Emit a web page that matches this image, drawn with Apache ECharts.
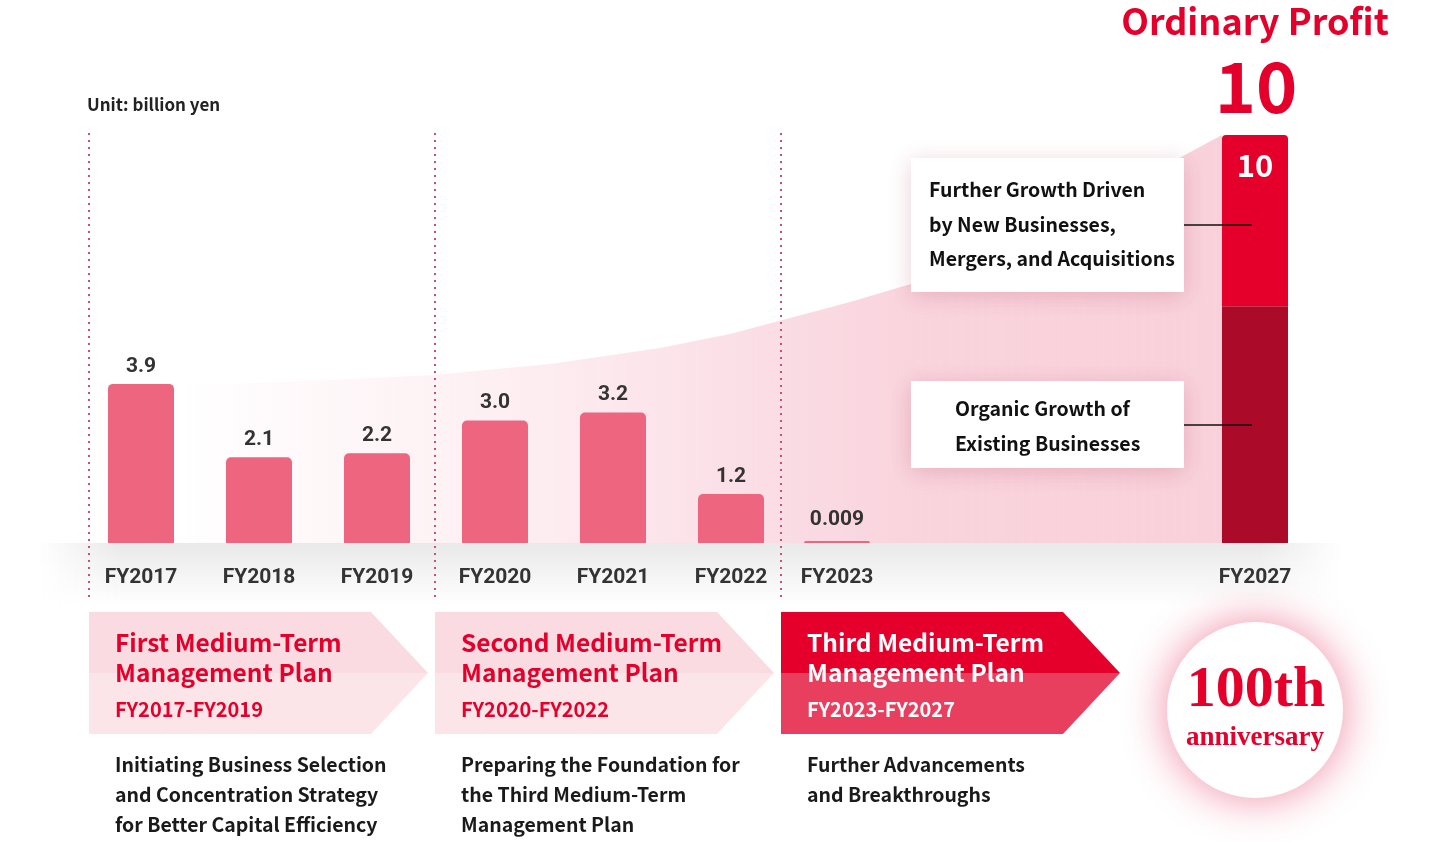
<!DOCTYPE html>
<html>
<head>
<meta charset="utf-8">
<script src="https://cdn.jsdelivr.net/npm/echarts@6/dist/echarts.min.js"></script>
<style>
html,body{margin:0;padding:0;background:#fff;}
#chart{width:1440px;height:842px;}
</style>
</head>
<body>
<div id="chart"></div>
<script>
// ---- data ----
const categories = ['FY2017','FY2018','FY2019','FY2020','FY2021','FY2022','FY2023','FY2027'];
const profit = [3.9, 2.1, 2.2, 3.0, 3.2, 1.2, 0.009];
const target2027 = 10;
const organicGrowth2027 = 5.8;
const newBusiness2027 = 4.2;
const plans = [
  {title:['First Medium-Term','Management Plan'], years:'FY2017-FY2019',
   desc:['Initiating Business Selection','and Concentration Strategy','for Better Capital Efficiency']},
  {title:['Second Medium-Term','Management Plan'], years:'FY2020-FY2022',
   desc:['Preparing the Foundation for','the Third Medium-Term','Management Plan']},
  {title:['Third Medium-Term','Management Plan'], years:'FY2023-FY2027',
   desc:['Further Advancements','and Breakthroughs']}
];
const boxTexts = [['Further Growth Driven','by New Businesses,','Mergers, and Acquisitions'],
                  ['Organic Growth of','Existing Businesses']];

// ---- chart ----
const chart = echarts.init(document.getElementById('chart'));
const SANS = '"Noto Sans CJK JP","Noto Sans",sans-serif';
const NUM = 'Roboto,"Noto Sans",sans-serif';
const RED = '#e4002b';
const TOP = 135, H = 408;

const grids = [
  {left: 82, width: 708, top: TOP, height: H},
  {left: 778, width: 118, top: TOP, height: H},
  {left: 1196, width: 118, top: TOP, height: H}
];
const xCats = [categories.slice(0,6), categories.slice(6,7), categories.slice(7,8)];
const xAxes = xCats.map((c,i)=>({
  type:'category', gridIndex:i, data:c,
  axisLine:{show:false}, axisTick:{show:false},
  axisLabel:{margin:24, fontSize:21, fontWeight:'bold', color:'#333', fontFamily:NUM}
}));
const yAxes = [0,1,2].map(i=>({type:'value', gridIndex:i, min:0, max:10, show:false, splitLine:{show:false}}));

const fmtVal = p => p.value < 0.1 ? String(p.value) : p.value.toFixed(1);
const barLabel = (d)=>({show:true, position:'top', distance:d, fontSize:21, fontWeight:'bold', color:'#333', fontFamily:NUM, formatter:fmtVal});

// decorative elements
const g = [];
// floor shadow
g.push({type:'rect', z:0, shape:{x:40,y:543,width:1300,height:62},
  style:{fill:new echarts.graphic.LinearGradient(0,0,0,1,[{offset:0,color:'rgba(0,0,0,0.085)'},{offset:1,color:'rgba(0,0,0,0)'}])}});
g.push({type:'rect', z:0, shape:{x:38,y:540,width:80,height:68},
  style:{fill:new echarts.graphic.LinearGradient(0,0,1,0,[{offset:0,color:'#fff'},{offset:1,color:'rgba(255,255,255,0)'}])}});
g.push({type:'rect', z:0, shape:{x:1262,y:540,width:80,height:68},
  style:{fill:new echarts.graphic.LinearGradient(0,0,1,0,[{offset:0,color:'rgba(255,255,255,0)'},{offset:1,color:'#fff'}])}});
// growth area
const curve = [[175,385],[250,383],[330,380],[433,375],[550,364],[660,348],[730,334],[790,318],[850,302],[911,284],
  [970,263],[1030,239],[1090,211],[1140,183],[1183,156],[1222,135]];
g.push({type:'polygon', z:1, shape:{points:[[175,543]].concat(curve).concat([[1222,543]])},
  style:{fill:new echarts.graphic.LinearGradient(0,0,1,0,[
    {offset:0,color:'rgba(248,200,212,0)'},{offset:0.3,color:'rgba(248,200,212,0.28)'},
    {offset:0.7,color:'rgba(248,200,212,0.78)'},{offset:1,color:'rgba(248,204,214,0.9)'}])}});
// dividers
[89,435,781].forEach(x=>g.push({type:'line', z:3, shape:{x1:x,y1:133,x2:x,y2:600},
  style:{stroke:'#c8507e', lineWidth:2, lineDash:[2,5]}}));
// unit
g.push({type:'text', z:5, x:87, y:105, style:{text:'Unit: billion yen', fontSize:17, fontWeight:'bold', fontFamily:SANS, fill:'#222', verticalAlign:'middle'}});
// headline
g.push({type:'text', z:5, x:1255, y:21, style:{text:'Ordinary Profit', fontSize:36, fontWeight:'bold', fontFamily:SANS, fill:RED, align:'center', verticalAlign:'middle'}});
g.push({type:'text', z:5, x:1256, y:86, style:{text:String(target2027), fontSize:70, fontWeight:'bold', fontFamily:SANS, fill:RED, align:'center', verticalAlign:'middle'}});
// annotation boxes
const boxes = [{y:158,h:134,tx:929,ty:190,ly:225},{y:381,h:87,tx:955,ty:409,ly:425}];
boxes.forEach((b,i)=>{
  g.push({type:'rect', z:6, shape:{x:911,y:b.y,width:273,height:b.h},
    style:{fill:'#fff', shadowBlur:22, shadowColor:'rgba(160,40,70,0.22)', shadowOffsetY:4}});
  boxTexts[i].forEach((t,j)=>g.push({type:'text', z:7, x:b.tx, y:b.ty+j*34.5,
    style:{text:t, fontSize:19.5, fontWeight:'bold', fontFamily:SANS, fill:'#111', verticalAlign:'middle'}}));
  g.push({type:'line', z:7, shape:{x1:1184,y1:b.ly,x2:1252,y2:b.ly}, style:{stroke:'#111', lineWidth:1.5}});
});
// plan arrows
const arrowX = [89,435,781];
const arrowCol = [['#fadbe1','#fce5e9'],['#fadbe1','#fce5e9'],['#e4002b','#e83f5f']];
plans.forEach((p,i)=>{
  const x = arrowX[i], tc = i===2 ? '#fff' : RED;
  g.push({type:'polygon', z:2, shape:{points:[[x,612],[x+282,612],[x+339,673],[x,673]]}, style:{fill:arrowCol[i][0]}});
  g.push({type:'polygon', z:2, shape:{points:[[x,673],[x+339,673],[x+282,734],[x,734]]}, style:{fill:arrowCol[i][1]}});
  p.title.forEach((t,j)=>g.push({type:'text', z:3, x:x+26, y:643+j*30,
    style:{text:t, fontSize:24.5, fontWeight:'bold', fontFamily:SANS, fill:tc, verticalAlign:'middle'}}));
  g.push({type:'text', z:3, x:x+26, y:709, style:{text:p.years, fontSize:20, fontWeight:'bold', fontFamily:SANS, fill:tc, verticalAlign:'middle'}});
  p.desc.forEach((t,j)=>g.push({type:'text', z:3, x:x+26, y:765+j*30,
    style:{text:t, fontSize:19.5, fontWeight:'bold', fontFamily:SANS, fill:'#1a1a1a', verticalAlign:'middle'}}));
});
// anniversary circle
g.push({type:'circle', z:2, shape:{cx:1255,cy:710,r:88},
  style:{fill:'#fff', shadowBlur:45, shadowColor:'rgba(228,40,85,0.55)'}});
g.push({type:'text', z:3, x:1256, y:691, style:{text:'100th', fontSize:58, fontWeight:'bold', fontFamily:'"Liberation Serif","DejaVu Serif",serif', fill:RED, align:'center', verticalAlign:'middle'}});
g.push({type:'text', z:3, x:1255, y:738, style:{text:'anniversary', fontSize:27, fontWeight:'bold', fontFamily:'"Liberation Serif","DejaVu Serif",serif', fill:RED, align:'center', verticalAlign:'middle'}});

chart.setOption({
  animation:false,
  grid: grids,
  xAxis: xAxes,
  yAxis: yAxes,
  graphic: g,
  series: [
    {type:'bar', xAxisIndex:0, yAxisIndex:0, z:4, barWidth:66, data:profit.slice(0,6),
     itemStyle:{color:'#ee6580', borderRadius:[5,5,0,0]}, label:barLabel(7)},
    {type:'bar', xAxisIndex:1, yAxisIndex:1, z:4, barWidth:66, barMinHeight:2, data:profit.slice(6,7),
     itemStyle:{color:'#ee6580', borderRadius:[2,2,0,0]}, label:barLabel(11)},
    {type:'bar', xAxisIndex:2, yAxisIndex:2, z:4, barWidth:66, stack:'fy27', data:[organicGrowth2027],
     itemStyle:{color:'#ab0a28'}},
    {type:'bar', xAxisIndex:2, yAxisIndex:2, z:4, barWidth:66, stack:'fy27', data:[newBusiness2027],
     itemStyle:{color:'#e4002b', borderRadius:[4,4,0,0]},
     label:{show:true, position:'insideTop', distance:15, formatter:()=>String(target2027), fontSize:31, fontWeight:'bold', color:'#fff', fontFamily:SANS}}
  ]
});
</script>
</body>
</html>
